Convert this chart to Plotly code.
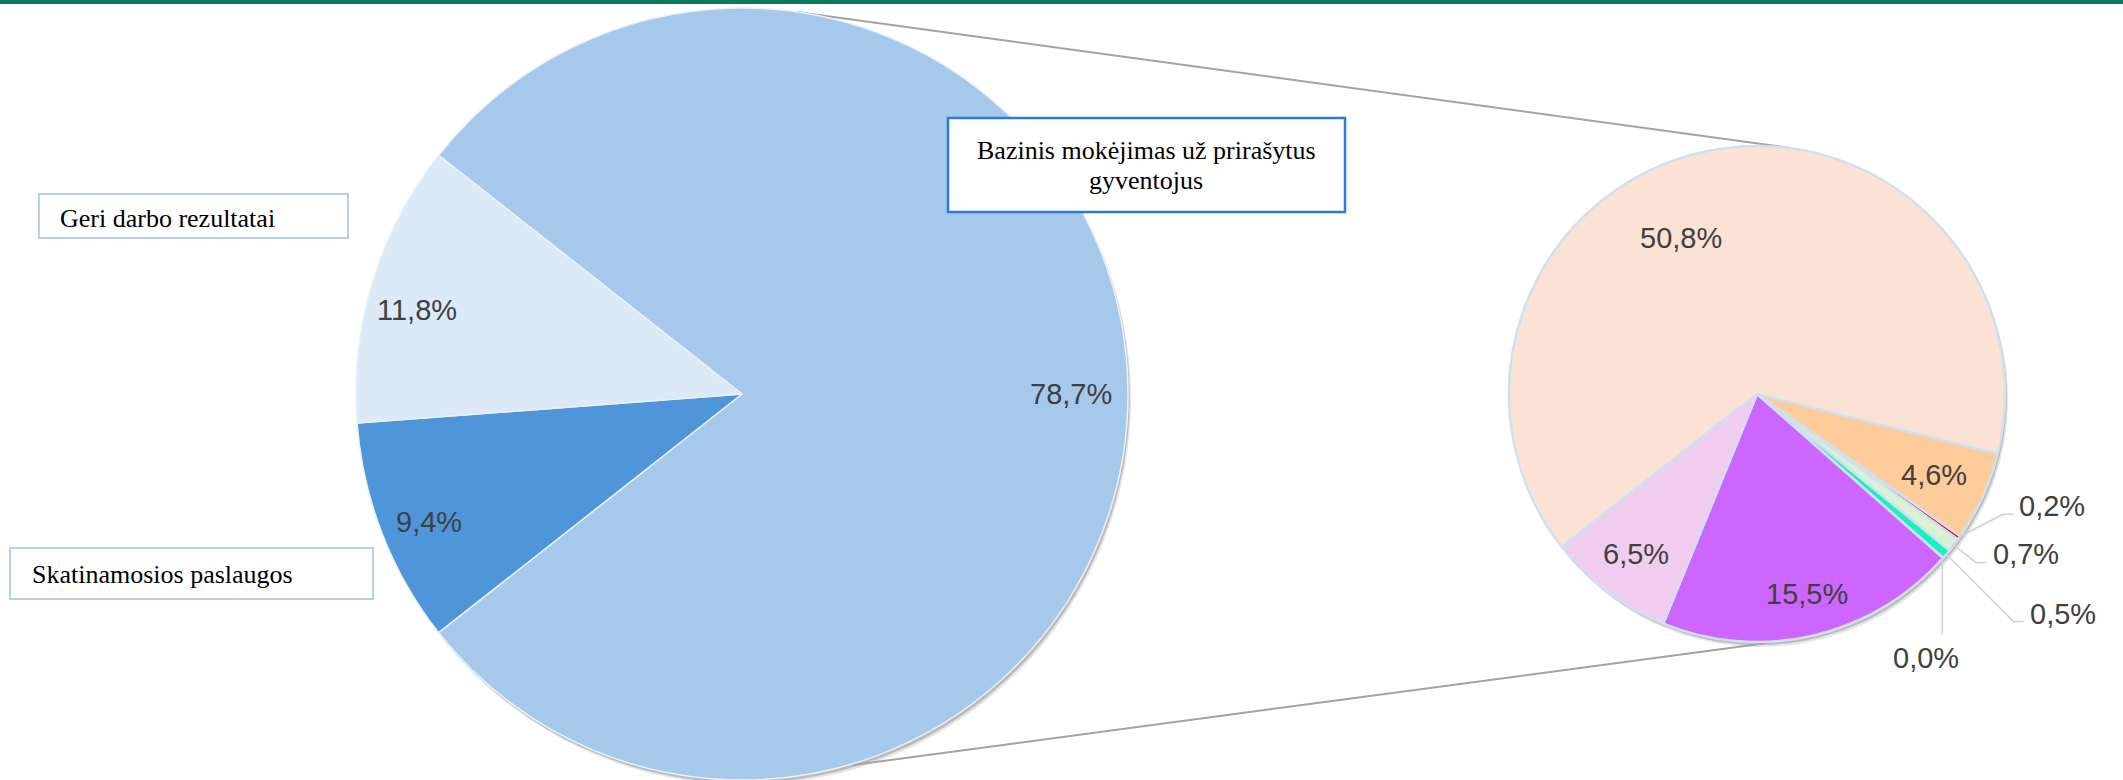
import math
import plotly.graph_objects as go

W, H = 2123, 780

# ---------------- data ----------------
main_names = ["Bazinis mokėjimas už prirašytus gyventojus",
              "Skatinamosios paslaugos",
              "Geri darbo rezultatai"]
main_values = [78.7, 9.4, 11.8]

sub_names = ["Dalis 1", "Dalis 2", "Dalis 3", "Dalis 4",
             "Dalis 5", "Dalis 6", "Dalis 7", "Dalis 8"]
sub_values = [50.8, 4.6, 0.2, 0.7, 0.5, 0.0, 15.5, 6.5]

box_geri = "Geri darbo rezultatai"
box_skat = "Skatinamosios paslaugos"
box_baz = ["Bazinis mokėjimas už prirašytus", "gyventojus"]

# ---------------- styles ----------------
main_colors = ["#a6c9eb", "#4f95da", "#dce9f6"]
sub_colors = ["#fbe2d5", "#fecb9a", "#ff0000", "#d9f2d2",
              "#17efc4", "#dce9f6", "#cc66ff", "#f0cdef"]

MAIN_C, MAIN_R, MAIN_ROT = (742.0, 394.0), 386.0, -51.8
SUB_C, SUB_R, SUB_ROT = (1757.0, 394.0), 248.0, -128.1

# (radius fraction, angular shift in degrees) for label placement
main_label_pos = [(0.852, 0.0), (0.875, 1.0), (0.87, 2.5)]
sub_inside = {0: (0.70, 14.0), 1: (0.785, 0.0), 6: (0.83, 1.0), 7: (0.81, 0.0)}
# outside labels: index -> (elbow dx, dy, horizontal len)
sub_outside = {2: (45, -23, 10), 3: (23, 18, 11), 4: (68, 68, 10)}
sub_vertical = {5: 77}

PCT_FONT = dict(family="Liberation Sans, Arial, sans-serif", size=29, color="#404040")
BOX_FONT = dict(family="Liberation Serif, Times New Roman, serif", size=26, color="#000000")


def fx(x):
    return x / W


def fy(y):
    return 1 - y / H


def fmt(v):
    return f"{v:.1f}".replace(".", ",") + "%"


def slice_angles(values, rotation):
    tot = sum(values)
    out, a = [], rotation
    for v in values:
        span = 360.0 * v / tot
        out.append((a, a + span))
        a += span
    return out


def polar(c, r, a_deg):
    a = math.radians(a_deg)
    return c[0] + r * math.sin(a), c[1] - r * math.cos(a)


def domain(c, r):
    return dict(x=[fx(c[0] - r), fx(c[0] + r)],
                y=[max(0.0, fy(c[1] + r)), min(1.0, fy(c[1] - r))])


fig = go.Figure()

fig.add_trace(go.Pie(
    labels=main_names, values=main_values, sort=False,
    direction="clockwise", rotation=MAIN_ROT,
    marker=dict(colors=main_colors, line=dict(color="#eaf1f9", width=1.5)),
    textinfo="none", hoverinfo="label+percent",
    domain=domain(MAIN_C, MAIN_R), showlegend=False,
))

fig.add_trace(go.Pie(
    labels=sub_names, values=sub_values, sort=False,
    direction="clockwise", rotation=SUB_ROT,
    marker=dict(colors=sub_colors, line=dict(color="#cfe0f1", width=2.5)),
    textinfo="none", hoverinfo="label+value",
    domain=domain(SUB_C, SUB_R), showlegend=False,
))

annotations = []
shapes = []

# top green bar
shapes.append(dict(type="rect", xref="paper", yref="paper",
                   x0=0, x1=1, y0=fy(4), y1=1, fillcolor="#0a7a5c",
                   line=dict(width=0), layer="above"))

# drop shadows
for c, r in [(MAIN_C, MAIN_R), (SUB_C, SUB_R)]:
    for off, alpha in [(5, 0.10), (3, 0.18)]:
        shapes.append(dict(type="circle", xref="paper", yref="paper",
                           x0=fx(c[0] - r + off * 0.6), x1=fx(c[0] + r + off * 0.6),
                           y0=fy(c[1] + r + off), y1=fy(c[1] - r + off),
                           fillcolor=f"rgba(0,0,0,{alpha})", line=dict(width=0),
                           layer="below"))

# connector lines (from the split slice to the second pie)
for (x0, y0, x1, y1) in [(797, 12, 1791, 148), (853, 765, 1767, 643)]:
    shapes.append(dict(type="line", xref="paper", yref="paper",
                       x0=fx(x0), y0=fy(y0), x1=fx(x1), y1=fy(y1),
                       line=dict(color="#a3a3a3", width=2), layer="below"))

# main pie labels
for i, (a0, a1) in enumerate(slice_angles(main_values, MAIN_ROT)):
    rf, shift = main_label_pos[i]
    mid = (a0 + a1) / 2
    x, y = polar(MAIN_C, MAIN_R * rf, mid - shift)
    annotations.append(dict(x=fx(x), y=fy(y), xref="paper", yref="paper",
                            text=fmt(main_values[i]), showarrow=False,
                            font=PCT_FONT, xanchor="center", yanchor="middle"))

# second pie labels
sub_ang = slice_angles(sub_values, SUB_ROT)
for i, (a0, a1) in enumerate(sub_ang):
    mid = (a0 + a1) / 2
    if i in sub_inside:
        rf, shift = sub_inside[i]
        x, y = polar(SUB_C, SUB_R * rf, mid - shift)
        annotations.append(dict(x=fx(x), y=fy(y), xref="paper", yref="paper",
                                text=fmt(sub_values[i]), showarrow=False,
                                font=PCT_FONT, xanchor="center", yanchor="middle"))
    elif i in sub_outside:
        dx, dy, hl = sub_outside[i]
        ex, ey = polar(SUB_C, SUB_R - 1, mid)
        bx, by = ex + dx, ey + dy
        cx = bx + hl
        shapes.append(dict(type="path", xref="paper", yref="paper",
                           path=f"M {fx(ex)},{fy(ey)} L {fx(bx)},{fy(by)} L {fx(cx)},{fy(by)}",
                           line=dict(color="#d0d0d0", width=1.5)))
        annotations.append(dict(x=fx(cx + 4), y=fy(by - 8), xref="paper", yref="paper",
                                text=fmt(sub_values[i]), showarrow=False,
                                font=PCT_FONT, xanchor="left", yanchor="middle"))
    elif i in sub_vertical:
        ln = sub_vertical[i]
        ex, ey = polar(SUB_C, SUB_R - 1, mid)
        shapes.append(dict(type="line", xref="paper", yref="paper",
                           x0=fx(ex), y0=fy(ey), x1=fx(ex), y1=fy(ey + ln),
                           line=dict(color="#d0d0d0", width=1.5)))
        annotations.append(dict(x=fx(ex - 16), y=fy(ey + ln + 24), xref="paper", yref="paper",
                                text=fmt(sub_values[i]), showarrow=False,
                                font=PCT_FONT, xanchor="center", yanchor="middle"))

# text boxes
boxes = [((39, 194, 348, 238), "#9cc3ec", 1.5),
         ((10, 548, 373, 599), "#9cc3ec", 1.5),
         ((948, 118, 1345, 212), "#2e7bd6", 2.5)]
for (x0, y0, x1, y1), col, lw in boxes:
    shapes.append(dict(type="rect", xref="paper", yref="paper",
                       x0=fx(x0), x1=fx(x1), y0=fy(y1), y1=fy(y0),
                       fillcolor="white", line=dict(color=col, width=lw), layer="above"))

annotations.append(dict(x=fx(58), y=fy(218), xref="paper", yref="paper", text=box_geri,
                        showarrow=False, font=BOX_FONT, xanchor="left", yanchor="middle"))
annotations.append(dict(x=fx(30), y=fy(574), xref="paper", yref="paper", text=box_skat,
                        showarrow=False, font=BOX_FONT, xanchor="left", yanchor="middle"))
for line_text, yy in zip(box_baz, [151, 180]):
    annotations.append(dict(x=fx(1146), y=fy(yy), xref="paper", yref="paper", text=line_text,
                            showarrow=False, font=BOX_FONT, xanchor="center", yanchor="middle"))

fig.update_layout(
    width=W, height=H, margin=dict(l=0, r=0, t=0, b=0),
    paper_bgcolor="white", plot_bgcolor="white", showlegend=False,
    shapes=shapes, annotations=annotations,
)

fig.write_html("out.html", config={"displayModeBar": False},
               post_script="document.body.style.margin='0px';")
